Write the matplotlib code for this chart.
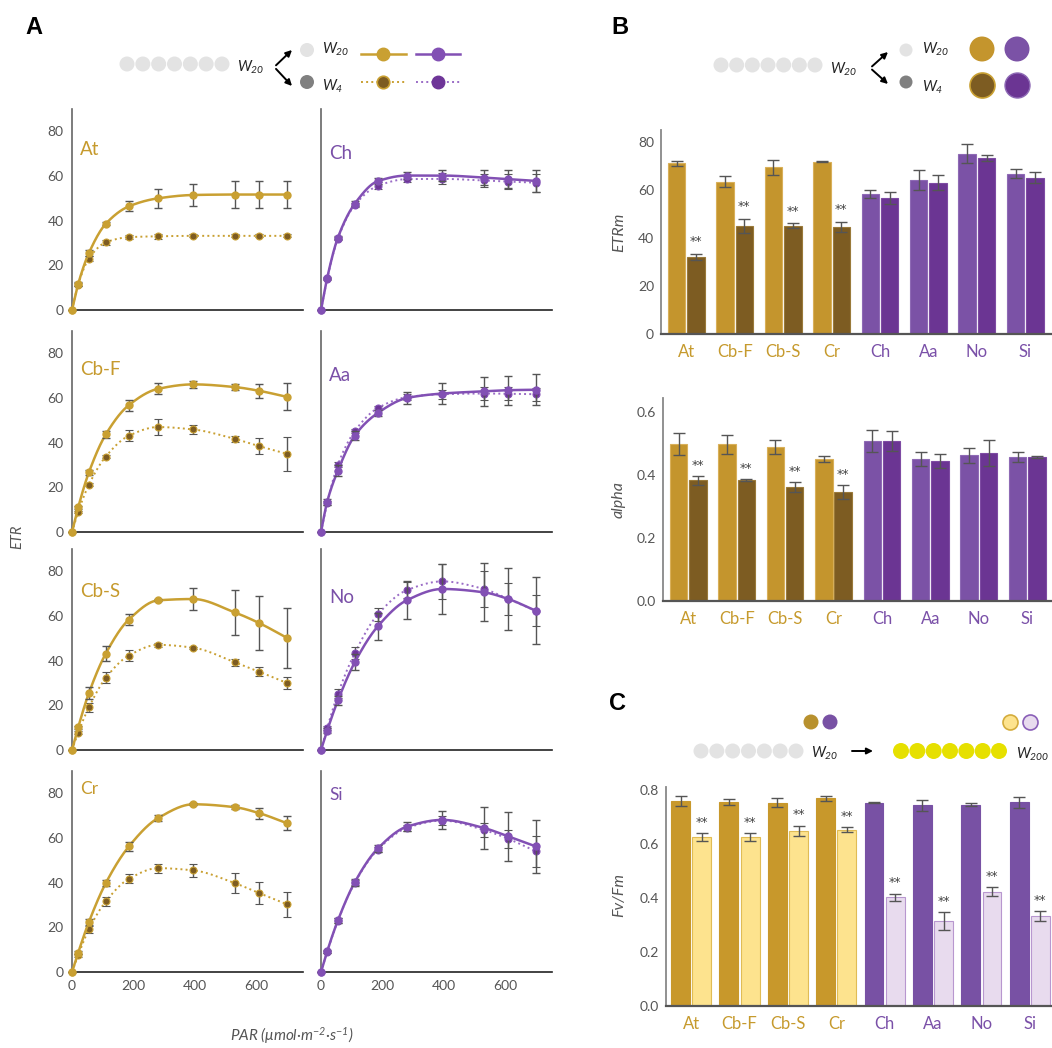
import numpy as np
import matplotlib
matplotlib.use('Agg')
import matplotlib.pyplot as plt

plt.rcParams['font.family'] = ['Lato', 'DejaVu Sans']
plt.rcParams['mathtext.fontset'] = 'custom'
plt.rcParams['mathtext.it'] = 'Lato:italic'
plt.rcParams['mathtext.rm'] = 'Lato:italic'

# ---- panel A : ETR light curves ----
par = [0, 20, 55, 110, 185, 280, 395, 530, 610, 700]

at_w20 = [0, 11.6, 25.5, 38.6, 46.4, 50.0, 51.5, 51.7, 51.7, 51.7]
at_w20_err = [0, 0.8, 1.2, 0.6, 2.2, 4.4, 5.0, 6.0, 6.0, 6.0]
at_w4 = [0, 11.4, 23.0, 30.3, 32.6, 33.0, 33.2, 33.2, 33.2, 33.2]
at_w4_err = [0, 0.8, 1.0, 1.0, 1.0, 1.0, 0.7, 0.7, 0.7, 0.7]

ch_w20 = [0, 14.3, 32.4, 47.6, 57.7, 60.2, 60.2, 59.3, 58.6, 57.8]
ch_w20_err = [0, 0.5, 0.8, 1.0, 1.5, 1.5, 2.5, 3.5, 4.0, 5.0]
ch_w4 = [0, 14.0, 32.0, 47.0, 55.6, 58.6, 58.7, 58.0, 57.5, 57.0]
ch_w4_err = [0, 0.5, 0.8, 1.0, 1.5, 1.5, 2.5, 3.0, 3.5, 4.0]

cbf_w20 = [0, 11.0, 26.7, 43.7, 56.8, 64.1, 66.1, 64.9, 63.2, 60.5]
cbf_w20_err = [0, 0.6, 1.0, 1.7, 2.5, 2.5, 1.5, 1.5, 3.0, 6.0]
cbf_w4 = [0, 9.0, 21.2, 33.8, 43.1, 47.0, 45.9, 41.7, 38.4, 35.0]
cbf_w4_err = [0, 0.6, 0.8, 0.8, 2.5, 3.7, 2.0, 1.2, 3.5, 7.5]

aa_w20 = [0, 13.5, 27.5, 43.2, 53.3, 60.0, 62.0, 63.0, 63.5, 63.7]
aa_w20_err = [0, 1.5, 2.5, 2.0, 1.5, 2.5, 4.5, 6.5, 6.5, 7.0]
aa_w4 = [0, 13.0, 30.2, 45.2, 55.5, 60.4, 61.7, 62.0, 61.9, 61.7]
aa_w4_err = [0, 1.0, 1.0, 1.0, 1.0, 1.5, 2.0, 3.0, 3.0, 3.0]

cbs_w20 = [0, 10.1, 25.5, 43.2, 58.4, 67.0, 67.6, 61.6, 56.8, 50.2]
cbs_w20_err = [0, 0.6, 2.5, 3.5, 2.5, 0.5, 5.0, 10.0, 12.0, 13.5]
cbs_w4 = [0, 7.8, 19.1, 32.3, 42.3, 47.1, 45.8, 39.3, 35.0, 30.0]
cbs_w4_err = [0, 0.6, 2.0, 2.5, 2.5, 1.0, 0.5, 1.5, 2.0, 2.5]

no_w20 = [0, 8.7, 22.2, 39.3, 55.4, 67.1, 72.1, 70.6, 67.6, 62.3]
no_w20_err = [0, 1.0, 2.0, 3.5, 6.0, 8.5, 11.0, 13.0, 14.0, 15.0]
no_w4 = [0, 9.8, 25.2, 43.4, 60.7, 71.6, 75.5, 72.1, 67.6, 62.3]
no_w4_err = [0, 1.0, 2.0, 2.5, 3.0, 3.5, 8.0, 8.0, 7.0, 7.0]

cr_w20 = [0, 8.6, 22.4, 39.8, 56.2, 68.9, 75.1, 73.8, 71.1, 66.6]
cr_w20_err = [0, 0.6, 1.2, 1.5, 2.0, 1.5, 0.5, 1.0, 2.5, 3.2]
cr_w4 = [0, 7.5, 19.1, 31.6, 41.7, 46.5, 45.5, 39.8, 35.3, 30.3]
cr_w4_err = [0, 0.6, 1.5, 2.2, 2.0, 2.0, 3.0, 4.5, 5.0, 5.5]

si_w20 = [0, 9.2, 23.1, 40.2, 55.3, 65.1, 68.1, 64.5, 60.7, 56.2]
si_w20_err = [0, 0.5, 1.0, 1.5, 1.5, 2.0, 4.0, 9.5, 11.0, 12.0]
si_w4 = [0, 9.0, 23.0, 40.0, 54.8, 64.5, 67.8, 63.6, 59.6, 54.0]
si_w4_err = [0, 0.5, 1.0, 1.0, 1.0, 1.5, 2.0, 3.0, 4.0, 7.0]

# ---- panels B and C ----
species = ['At', 'Cb-F', 'Cb-S', 'Cr', 'Ch', 'Aa', 'No', 'Si']
etrm_w20 = [71.2, 63.5, 69.4, 71.8, 58.3, 64.2, 75.1, 66.8]
etrm_w20_err = [1.0, 2.2, 3.0, 0.2, 1.7, 4.0, 4.0, 2.0]
etrm_w4 = [32.1, 45.1, 45.1, 44.6, 56.7, 63.1, 73.3, 65.1]
etrm_w4_err = [1.3, 3.0, 1.0, 2.2, 2.4, 3.3, 1.2, 2.2]

alpha_w20 = [0.498, 0.498, 0.489, 0.451, 0.509, 0.452, 0.463, 0.459]
alpha_w20_err = [0.035, 0.031, 0.021, 0.009, 0.034, 0.023, 0.023, 0.016]
alpha_w4 = [0.383, 0.384, 0.362, 0.347, 0.509, 0.445, 0.470, 0.457]
alpha_w4_err = [0.015, 0.004, 0.017, 0.023, 0.031, 0.021, 0.040, 0.003]

fvfm_w20 = [0.760, 0.757, 0.753, 0.770, 0.754, 0.744, 0.747, 0.755]
fvfm_w20_err = [0.018, 0.010, 0.017, 0.010, 0.002, 0.020, 0.004, 0.020]
fvfm_w200 = [0.627, 0.627, 0.650, 0.654, 0.403, 0.314, 0.424, 0.333]
fvfm_w200_err = [0.015, 0.015, 0.019, 0.009, 0.014, 0.033, 0.017, 0.019]

sig_b = [True, True, True, True, False, False, False, False]
sig_c = [True] * 8

GOLD = '#C9A032'
GOLD_D = '#7D5C22'
PURP = '#8250B4'
PURP_D = '#6E3598'
GOLD_TXT = '#C69A2D'
PURP_TXT = '#7A50A8'
ERR = '#555555'
TICK = '#555555'

W, H = 1052, 1048
fig = plt.figure(figsize=(W / 100, H / 100), dpi=100)


def box(x0, y_bottom, w, h):
    # pixel box -> figure fraction
    return [x0 / W, 1 - y_bottom / H, w / W, h / H]


def pchip(x, y, xs):
    x = np.asarray(x, float)
    y = np.asarray(y, float)
    h = np.diff(x)
    d = np.diff(y) / h
    m = np.zeros_like(y)
    for k in range(1, len(x) - 1):
        if d[k - 1] * d[k] > 0:
            w1 = 2 * h[k] + h[k - 1]
            w2 = h[k] + 2 * h[k - 1]
            m[k] = (w1 + w2) / (w1 / d[k - 1] + w2 / d[k])
    m[0] = d[0]
    m[-1] = d[-1]
    i = np.clip(np.searchsorted(x, xs) - 1, 0, len(h) - 1)
    t = (xs - x[i]) / h[i]
    h00 = 2 * t**3 - 3 * t**2 + 1
    h10 = t**3 - 2 * t**2 + t
    h01 = -2 * t**3 + 3 * t**2
    h11 = t**3 - t**2
    return h00 * y[i] + h10 * h[i] * m[i] + h01 * y[i + 1] + h11 * h[i] * m[i + 1]


panels = [
    ('At', at_w20, at_w20_err, at_w4, at_w4_err, 'gold'),
    ('Ch', ch_w20, ch_w20_err, ch_w4, ch_w4_err, 'purple'),
    ('Cb-F', cbf_w20, cbf_w20_err, cbf_w4, cbf_w4_err, 'gold'),
    ('Aa', aa_w20, aa_w20_err, aa_w4, aa_w4_err, 'purple'),
    ('Cb-S', cbs_w20, cbs_w20_err, cbs_w4, cbs_w4_err, 'gold'),
    ('No', no_w20, no_w20_err, no_w4, no_w4_err, 'purple'),
    ('Cr', cr_w20, cr_w20_err, cr_w4, cr_w4_err, 'gold'),
    ('Si', si_w20, si_w20_err, si_w4, si_w4_err, 'purple'),
]
# label heights inside each panel (axes fraction)
name_y = [0.80, 0.78, 0.81, 0.78, 0.79, 0.76, 0.91, 0.88]

row_zero = [310, 532, 750, 972]
col_left = [72, 321]
xs = np.linspace(0, 700, 300)

for n, (name, w20, w20e, w4, w4e, grp) in enumerate(panels):
    r, c = divmod(n, 2)
    ax = fig.add_axes(box(col_left[c], row_zero[r], 231, 201))
    light = GOLD if grp == 'gold' else PURP
    dark = GOLD_D if grp == 'gold' else PURP_D
    txt = GOLD_TXT if grp == 'gold' else PURP_TXT
    dot_line = GOLD if grp == 'gold' else '#9A6CC6'

    ax.plot(xs, pchip(par, w4, xs), ':', color=dot_line, lw=1.4, zorder=2)
    ax.errorbar(par, w4, yerr=w4e, fmt='o', ms=5, color=dark, mec=light, mew=0.8,
                ecolor=ERR, elinewidth=1, capsize=3, capthick=1, zorder=3, clip_on=False)
    ax.plot(xs, pchip(par, w20, xs), '-', color=light, lw=1.8, zorder=4)
    ax.errorbar(par, w20, yerr=w20e, fmt='o', ms=5, color=light, mec=light,
                ecolor=ERR, elinewidth=1, capsize=3, capthick=1, zorder=5, clip_on=False)

    ax.set_xlim(0, 752)
    ax.set_ylim(0, 90)
    ax.text(0.035, name_y[n], name, transform=ax.transAxes, color=txt,
            fontsize=13.5 if n < 6 else 12.5, va='center', ha='left')
    for s in ['top', 'right']:
        ax.spines[s].set_visible(False)
    ax.spines['left'].set_color('#666666')
    ax.spines['bottom'].set_color('#222222')
    ax.spines['left'].set_linewidth(1.2)
    ax.spines['bottom'].set_linewidth(1.2)
    ax.tick_params(length=0, labelsize=10, labelcolor=TICK, pad=6)
    ax.set_yticks([0, 20, 40, 60, 80])
    ax.set_xticks([0, 200, 400, 600])
    if c == 1:
        ax.set_yticklabels([])
    if r < 3:
        ax.set_xticklabels([])
    ax.patch.set_alpha(0)

# ---- bar panels ----
x = np.arange(len(species))
lab_cols = [GOLD_TXT] * 4 + [PURP_TXT] * 4


def style_bar_axis(ax, yticks, fmt):
    for s in ['top', 'right']:
        ax.spines[s].set_visible(False)
    ax.spines['left'].set_color('#888888')
    ax.spines['bottom'].set_color('#555555')
    ax.spines['left'].set_linewidth(1.3)
    ax.spines['bottom'].set_linewidth(1.6)
    ax.set_yticks(yticks)
    ax.set_yticklabels([fmt.format(v) for v in yticks])
    ax.set_xticks(x)
    ax.set_xticklabels(species, fontsize=12)
    for t, col in zip(ax.get_xticklabels(), lab_cols):
        t.set_color(col)
    ax.tick_params(axis='y', length=0, labelsize=10, labelcolor=TICK, pad=5)
    ax.tick_params(axis='x', length=0, pad=7)
    ax.patch.set_alpha(0)


def draw_pairs(ax, v1, e1, v2, e2, c1, c2, edge1, edge2, off, bw, sig, star_off):
    ax.bar(x - off, v1, bw, color=c1, edgecolor=edge1, linewidth=0.8)
    ax.bar(x + off, v2, bw, color=c2, edgecolor=edge2, linewidth=0.8)
    ax.errorbar(x - off, v1, yerr=e1, fmt='none', ecolor=ERR, elinewidth=1, capsize=4, capthick=1)
    ax.errorbar(x + off, v2, yerr=e2, fmt='none', ecolor=ERR, elinewidth=1, capsize=4, capthick=1)
    for i in range(len(x)):
        if sig[i]:
            ax.text(x[i] + off, v2[i] + e2[i] + star_off, '**', ha='center', va='center',
                    fontsize=9, color='#444444', family='DejaVu Sans')


# ETRm
ax = fig.add_axes(box(661, 334, 391, 204))
c1 = ['#C4952D'] * 4 + ['#7B52A6'] * 4
c2 = [GOLD_D] * 4 + ['#6B3593'] * 4
draw_pairs(ax, etrm_w20, etrm_w20_err, etrm_w4, etrm_w4_err, c1, c2,
           ['#D9B05A'] * 4 + ['#8E6AB5'] * 4, ['#9A7A3A'] * 4 + ['#7E4BA3'] * 4,
           0.2, 0.36, sig_b, 5.0)
ax.set_xlim(-0.52, 7.55)
ax.set_ylim(0, 85)
style_bar_axis(ax, [0, 20, 40, 60, 80], '{:.0f}')

# alpha
ax = fig.add_axes(box(663, 601, 389, 203))
draw_pairs(ax, alpha_w20, alpha_w20_err, alpha_w4, alpha_w4_err, c1, c2,
           ['#D9B05A'] * 4 + ['#8E6AB5'] * 4, ['#9A7A3A'] * 4 + ['#7E4BA3'] * 4,
           0.2, 0.36, sig_b, 0.032)
ax.set_xlim(-0.52, 7.51)
ax.set_ylim(0, 0.645)
style_bar_axis(ax, [0, 0.2, 0.4, 0.6], '{:.1f}')

# Fv/Fm
ax = fig.add_axes(box(666, 1006, 386, 219))
draw_pairs(ax, fvfm_w20, fvfm_w20_err, fvfm_w200, fvfm_w200_err,
           ['#C8982B'] * 4 + ['#7851A4'] * 4, ['#FDE38E'] * 4 + ['#E8DBEE'] * 4,
           ['#C8982B'] * 4 + ['#7851A4'] * 4, ['#E0BC55'] * 4 + ['#B897CF'] * 4,
           0.22, 0.39, sig_c, 0.04)
ax.set_xlim(-0.52, 7.46)
ax.set_ylim(0, 0.812)
style_bar_axis(ax, [0, 0.2, 0.4, 0.6, 0.8], '{:.1f}')

# ---- labels, legends and decorations (pixel overlay) ----
ov = fig.add_axes([0, 0, 1, 1])
ov.set_xlim(0, W)
ov.set_ylim(H, 0)
ov.axis('off')
ov.patch.set_alpha(0)

for lbl, px, py in [('A', 34, 27), ('B', 620, 27), ('C', 618, 703)]:
    ov.text(px, py, lbl, fontsize=17, fontweight='bold', ha='center', va='center',
            family='Liberation Sans')

ov.text(17, 537, 'ETR', rotation=90, style='italic', fontsize=10.5, color=TICK,
        ha='center', va='center')
ov.text(292, 1036, r'PAR ($\mu$mol·m$^{-2}$·s$^{-1}$)', style='italic', fontsize=11,
        color=TICK, ha='center', va='center')
ov.text(619, 232, 'ETRm', rotation=90, style='italic', fontsize=11.5, color=TICK,
        ha='center', va='center')
ov.text(619, 500, 'alpha', rotation=90, style='italic', fontsize=11.5, color=TICK,
        ha='center', va='center')
ov.text(619, 895, 'Fv/Fm', rotation=90, style='italic', fontsize=11.5, color=TICK,
        ha='center', va='center')

GREY_L = '#E3E3E3'
GREY_D = '#808080'


def grey_row(x0, x1, y, col=GREY_L, d=15):
    cx = np.linspace(x0, x1, 7)
    ov.scatter(cx, [y] * 7, s=(d / 1.389) ** 2, color=col, edgecolors='none', zorder=3)


def wlab(px, py, sub, fs=10.5):
    ov.text(px, py, r'$W_{' + sub + '}$', fontsize=fs, ha='left', va='center', color='#222222')


def arrows(x0, x1, ymid, yup, ydn):
    for yt in (yup, ydn):
        ov.annotate('', xy=(x1, yt), xytext=(x0, ymid + (yt - ymid) * 0.1),
                    arrowprops=dict(arrowstyle='-|>', color='black', lw=1.4,
                                    mutation_scale=9, shrinkA=0, shrinkB=0))


# legend A
grey_row(127, 222, 64)
wlab(237, 67, '20')
arrows(276, 292, 67, 50, 86)
ov.scatter([307], [50], s=(14 / 1.389) ** 2, color=GREY_L, edgecolors='none')
ov.scatter([307], [82], s=(14 / 1.389) ** 2, color=GREY_D, edgecolors='none')
wlab(322, 49, '20')
wlab(322, 86, '4')
ov.plot([361, 406], [54, 54], '-', color=GOLD, lw=1.8)
ov.plot([383], [54], 'o', ms=9, color=GOLD)
ov.plot([416, 460], [54, 54], '-', color=PURP, lw=1.8)
ov.plot([438], [54], 'o', ms=9, color=PURP)
ov.plot([361, 406], [82, 82], ':', color=GOLD, lw=1.4)
ov.plot([383], [82], 'o', ms=9, color=GOLD_D, mec=GOLD, mew=1.2)
ov.plot([416, 460], [82, 82], ':', color='#9A6CC6', lw=1.4)
ov.plot([438], [82], 'o', ms=9, color=PURP_D)

# legend B
grey_row(721, 815, 65, d=15)
wlab(830, 69, '20')
arrows(872, 888, 68, 52, 84)
ov.scatter([906], [50], s=(13 / 1.389) ** 2, color=GREY_L, edgecolors='none')
ov.scatter([906], [82], s=(13 / 1.389) ** 2, color=GREY_D, edgecolors='none')
wlab(922, 49, '20')
wlab(922, 87, '4')
big = (25 / 1.389) ** 2
ov.scatter([982], [49], s=big, color='#C4952D', edgecolors='none')
ov.scatter([1017], [49], s=big, color='#7B52A6', edgecolors='none')
ov.scatter([982], [85], s=big, color=GOLD_D, edgecolors='#C9A032', linewidths=1.2)
ov.scatter([1017], [85], s=big, color='#6B3593', edgecolors='#8E6AB5', linewidths=1.0)

# legend C
sm = (15 / 1.389) ** 2
ov.scatter([811], [722], s=sm, color='#B8912E', edgecolors='none')
ov.scatter([830], [722], s=sm, color='#7851A4', edgecolors='none')
ov.scatter([1010], [722], s=sm, color='#FDE38E', edgecolors='#D4AC3C', linewidths=1.2)
ov.scatter([1030], [722], s=sm, color='#E8DBEE', edgecolors='#8A5FB8', linewidths=1.2)
grey_row(701, 796, 751, d=15)
wlab(811, 753, '20')
ov.annotate('', xy=(873, 751), xytext=(852, 751),
            arrowprops=dict(arrowstyle='-|>', color='black', lw=1.4, mutation_scale=9,
                            shrinkA=0, shrinkB=0))
grey_row(901, 999, 751, col='#E6E000', d=16)
wlab(1016, 754, '200')

fig.savefig('out.png', dpi=100)
